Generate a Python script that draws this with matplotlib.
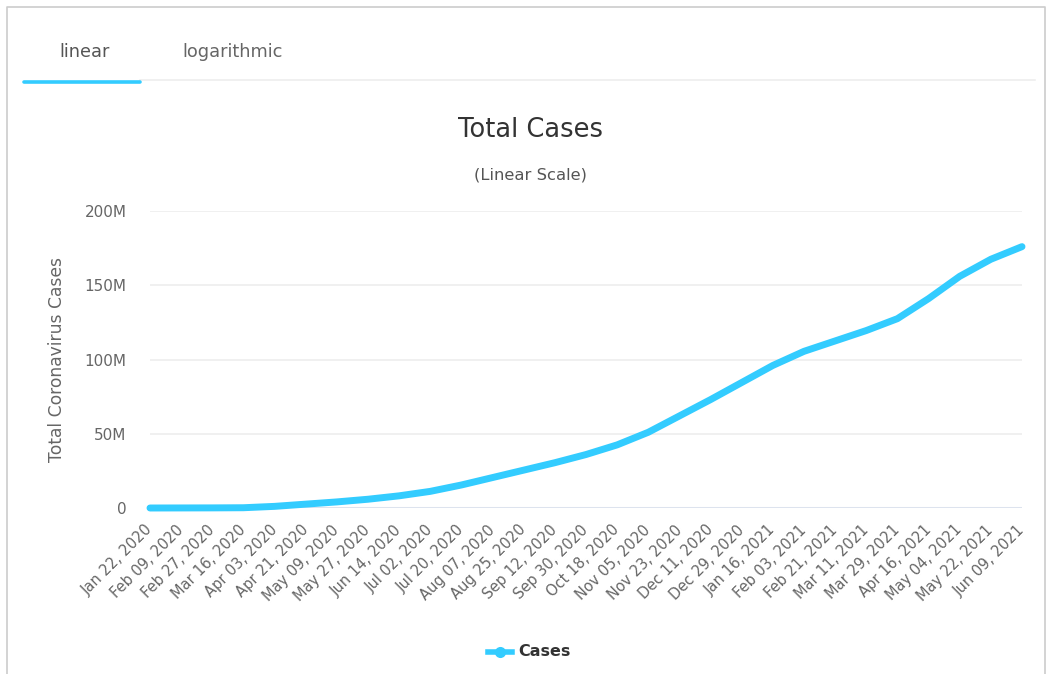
import numpy as np
import pandas as pd
import matplotlib
matplotlib.use("Agg")
import matplotlib.pyplot as plt
import matplotlib.dates as mdates
from matplotlib.lines import Line2D

plt.rcParams['font.family'] = ['DejaVu Sans']

# tick dates (every 18 days) and total cases, in millions
dates = pd.date_range("2020-01-22", "2021-06-09", freq="18D")
cases_m = [0.001, 0.04, 0.08, 0.18, 1.1, 2.6, 4.1, 5.9, 8.2, 11.2,
           15.5, 20.5, 25.5, 30.5, 36.0, 42.5, 51.0, 62.0, 73.0, 84.5,
           96.0, 105.5, 112.5, 119.5, 127.5, 141.0, 156.0, 167.5, 176.0]
yticks = [0, 50e6, 100e6, 150e6, 200e6]
ytick_labels = ["0", "50M", "100M", "150M", "200M"]

line_color = "#33ccff"
text_gray = "#666666"

W, H = 1053, 674
fig = plt.figure(figsize=(W / 100, H / 100), dpi=100)


def fx(px):
    return px / W


def fy(py):
    return 1 - py / H


# outer panel border (left, top, right)
fig.add_artist(Line2D([fx(7), fx(7), fx(1045), fx(1045)], [fy(674), fy(7), fy(7), fy(674)],
                      transform=fig.transFigure, color="#cccccc", linewidth=1.2))

# tabs
fig.text(fx(85), fy(52), "linear", ha="center", va="center", fontsize=12.8, color="#555555")
fig.text(fx(233), fy(52), "logarithmic", ha="center", va="center", fontsize=12.8, color="#666666")
fig.add_artist(Line2D([fx(140), fx(1035)], [fy(80), fy(80)], transform=fig.transFigure,
                      color="#eeeeee", linewidth=1.2))
fig.add_artist(Line2D([fx(24), fx(140)], [fy(82), fy(82)], transform=fig.transFigure,
                      color=line_color, linewidth=2.6, solid_capstyle="round"))

# titles
fig.text(fx(531), fy(130), "Total Cases", ha="center", va="center", fontsize=18.5, color="#333333")
fig.text(fx(530), fy(175), "(Linear Scale)", ha="center", va="center", fontsize=11.8, color="#555555")

ax = fig.add_axes([fx(150), fy(508), fx(1022) - fx(150), fy(211) - fy(508)])
ax.plot(dates, np.array(cases_m) * 1e6, color=line_color, linewidth=5,
        solid_capstyle="round", solid_joinstyle="round", clip_on=False, zorder=3)

ax.set_xlim(dates[0], dates[-1])
ax.set_ylim(0, 200e6)
ax.set_yticks(yticks)
ax.set_yticklabels(ytick_labels)
ax.set_xticks(dates)
ax.xaxis.set_major_formatter(mdates.DateFormatter("%b %d, %Y"))

for s in ax.spines.values():
    s.set_visible(False)
ax.grid(axis="y", color="#eeeeee", linewidth=1.2)
ax.axhline(0, color="#dde3ee", linewidth=2.2, zorder=2)
ax.set_axisbelow(True)

ax.tick_params(axis="both", length=0, colors=text_gray)
ax.tick_params(axis="y", pad=17, labelsize=11)
ax.tick_params(axis="x", pad=14, labelsize=10.5)
for lab in ax.get_xticklabels():
    lab.set_rotation(45)
    lab.set_ha("right")
    lab.set_va("center")
    lab.set_rotation_mode("anchor")

ax.set_ylabel("Total Coronavirus Cases", fontsize=12.3, color=text_gray, labelpad=13)

# legend
fig.add_artist(Line2D([fx(488), fx(512)], [fy(652), fy(652)], transform=fig.transFigure,
                      color=line_color, linewidth=4))
fig.add_artist(Line2D([fx(500)], [fy(652)], transform=fig.transFigure, color=line_color,
                      marker="o", markersize=8, markeredgewidth=0, linestyle="none"))
fig.text(fx(518), fy(652), "Cases", ha="left", va="center", fontsize=11.5,
         fontweight="bold", color="#333333")

fig.savefig("out.png", dpi=100)
